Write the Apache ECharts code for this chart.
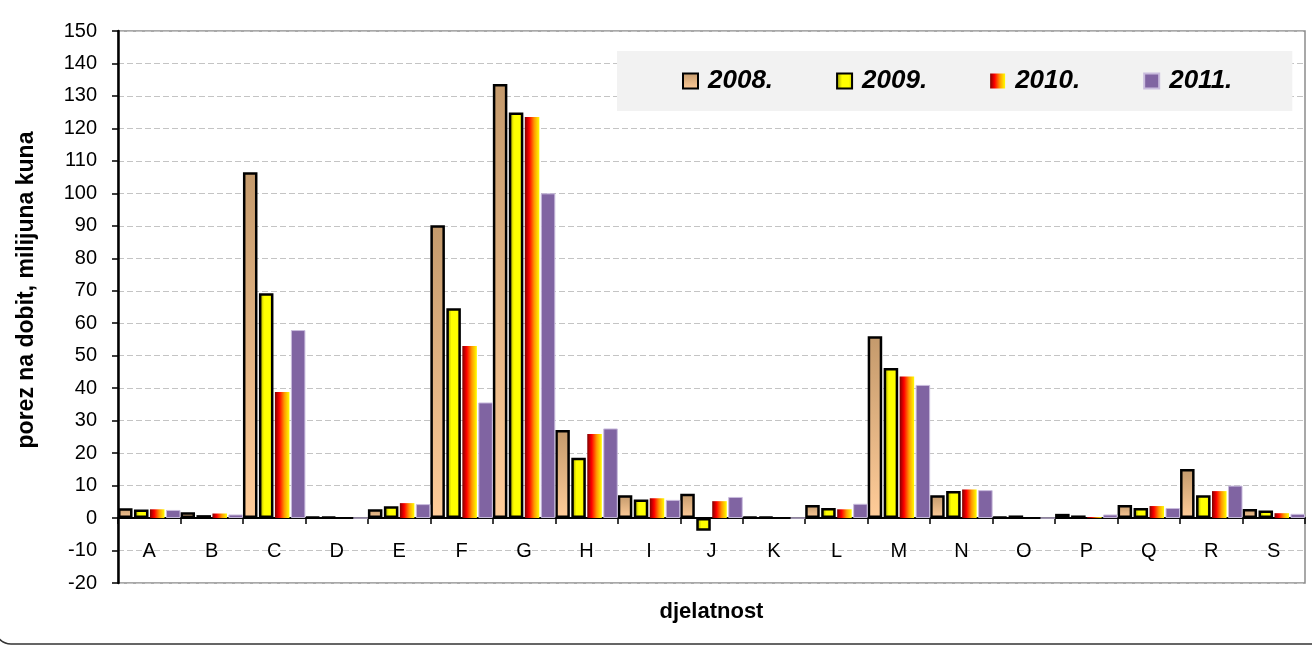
<!DOCTYPE html>
<html>
<head>
<meta charset="utf-8">
<script src="https://cdn.jsdelivr.net/npm/echarts@6/dist/echarts.min.js"></script>
<style>
  html, body { margin: 0; padding: 0; background: #fff; }
  #main { width: 1312px; height: 646px; }
</style>
</head>
<body>
<div id="main"></div>
<script>
// djelatnosti (NKD sekcije)
var categories = ['A', 'B', 'C', 'D', 'E', 'F', 'G', 'H', 'I', 'J', 'K', 'L', 'M', 'N', 'O', 'P', 'Q', 'R', 'S'];
var years = ['2008.', '2009.', '2010.', '2011.'];

// porez na dobit, milijuna kuna
var data2008 = [3.0, 1.8, 106.5, 0.3, 2.7, 90.2, 133.7, 27.1, 7.0, 7.5, 0.3, 4.0, 56.0, 7.0, 0.3, 1.3, 4.0, 15.1, 2.8];
var data2009 = [2.6, 0.9, 69.2, 0.3, 3.6, 64.6, 124.9, 18.6, 5.7, -3.9, 0.3, 3.1, 46.2, 8.3, 0.8, 0.8, 3.1, 7.0, 2.3];
var data2010 = [2.7, 1.4, 38.8, 0.0, 4.6, 53.0, 123.5, 25.9, 6.1, 5.2, 0.0, 2.7, 43.6, 8.8, 0.0, 0.3, 3.7, 8.3, 1.5];
var data2011 = [2.5, 1.1, 57.9, 0.0, 4.3, 35.6, 100.0, 27.6, 5.6, 6.5, 0.0, 4.4, 41.0, 8.6, 0.0, 1.1, 3.1, 10.0, 1.3];

var yTicks = { min: -20, max: 150, interval: 10 };

var font = 'Arial, "Liberation Sans", sans-serif';

var myChart = echarts.init(document.getElementById('main'));

var option = {
  animation: false,
  textStyle: { fontFamily: font },
  graphic: [
    {
      type: 'rect',
      silent: true,
      shape: { x: -5, y: -30, width: 1350, height: 674, r: 16 },
      style: { fill: 'none', stroke: '#333', lineWidth: 1.5 }
    }
  ],
  legend: {
    data: years,
    left: 617,
    top: 51,
    padding: [17, 60, 17, 65],
    backgroundColor: '#F2F2F2',
    icon: 'rect',
    itemWidth: 15,
    itemHeight: 15,
    itemGap: 63,
    textStyle: {
      fontFamily: font,
      fontSize: 26,
      fontWeight: 'bold',
      fontStyle: 'italic',
      color: '#000',
      padding: [0, 0, 0, 5]
    }
  },
  grid: {
    left: 118,
    right: 7,
    top: 31,
    bottom: 63,
    outerBoundsMode: 'none',
    show: true,
    borderColor: '#8c8c8c',
    borderWidth: 1.5
  },
  xAxis: {
    type: 'category',
    data: categories,
    name: 'djelatnost',
    nameLocation: 'middle',
    nameGap: 18,
    nameTextStyle: { fontSize: 22, fontWeight: 'bold', color: '#000' },
    axisLine: { onZero: true, lineStyle: { color: '#000', width: 2 } },
    axisTick: { show: true, length: 6, lineStyle: { color: '#000', width: 1.5 } },
    // labels sit just under the zero line, inside the negative band
    axisLabel: { fontSize: 20, color: '#000', margin: -42 },
    splitLine: { show: false }
  },
  yAxis: {
    type: 'value',
    min: yTicks.min,
    max: yTicks.max,
    interval: yTicks.interval,
    name: 'porez na dobit, milijuna kuna',
    nameLocation: 'middle',
    nameGap: 80,
    nameRotate: 90,
    nameTextStyle: { fontSize: 23, fontWeight: 'bold', color: '#000', padding: [0, 0, 0, 34] },
    axisLine: { show: true, lineStyle: { color: '#000', width: 2.5 } },
    axisTick: { show: true, length: 6, lineStyle: { color: '#000', width: 1.5 } },
    axisLabel: { fontSize: 20, color: '#000', margin: 21 },
    splitLine: { lineStyle: { color: '#c4c4c4', type: [6, 3], width: 1.2 } }
  },
  series: [
    {
      name: '2008.',
      type: 'bar',
      data: data2008,
      barCategoryGap: '0%',
      barGap: '10%',
      itemStyle: {
        color: new echarts.graphic.LinearGradient(0, 0, 0, 1, [
          { offset: 0, color: '#C49A6C' },
          { offset: 1, color: '#FFCC99' }
        ]),
        borderColor: '#000',
        borderWidth: 2.5
      }
    },
    {
      name: '2009.',
      type: 'bar',
      data: data2009,
      barCategoryGap: '0%',
      barGap: '10%',
      itemStyle: {
        color: new echarts.graphic.LinearGradient(0, 0, 1, 0, [
          { offset: 0, color: '#8C8C00' },
          { offset: 0.35, color: '#FFFF00' },
          { offset: 0.75, color: '#FFFF00' },
          { offset: 1, color: '#C8C800' }
        ]),
        borderColor: '#000',
        borderWidth: 2.5
      }
    },
    {
      name: '2010.',
      type: 'bar',
      data: data2010,
      barCategoryGap: '0%',
      barGap: '10%',
      itemStyle: {
        color: new echarts.graphic.LinearGradient(0, 0, 1, 0, [
          { offset: 0, color: '#800000' },
          { offset: 0.3, color: '#FF0000' },
          { offset: 0.65, color: '#FF9900' },
          { offset: 1, color: '#FFFF00' }
        ])
      }
    },
    {
      name: '2011.',
      type: 'bar',
      data: data2011,
      barCategoryGap: '0%',
      barGap: '10%',
      itemStyle: {
        color: '#8064A2',
        borderColor: '#C9BCDD',
        borderWidth: 1
      }
    }
  ]
};

myChart.setOption(option);
</script>
</body>
</html>
